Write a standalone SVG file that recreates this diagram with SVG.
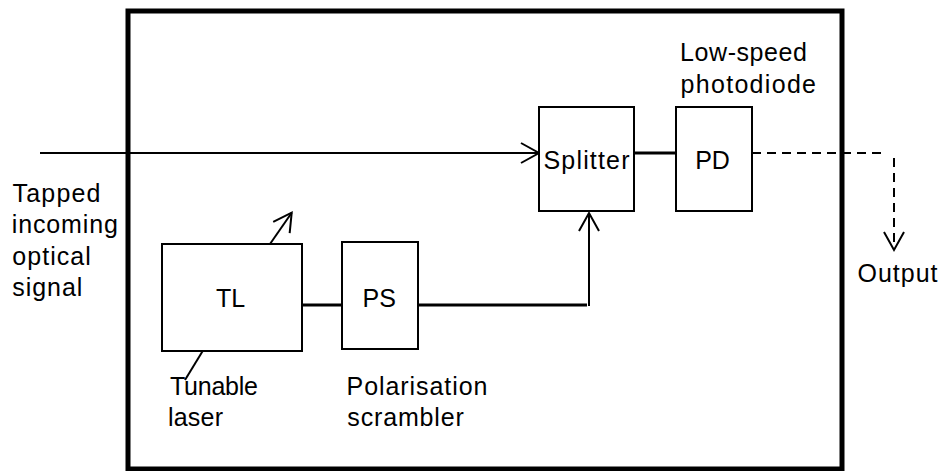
<svg xmlns="http://www.w3.org/2000/svg" width="942" height="471" viewBox="0 0 942 471">
  <style>
    .box { fill: #ffffff; stroke: #000000; stroke-width: 2; }
    .frame { fill: none; stroke: #000000; stroke-width: 5; }
    .thin { fill: none; stroke: #000000; stroke-width: 2; }
    .thick { fill: none; stroke: #000000; stroke-width: 3; }
    .dash { fill: none; stroke: #000000; stroke-width: 2; stroke-dasharray: 9 6; }
    text { font-family: "Liberation Sans", Arial, sans-serif; font-size: 25px; fill: #000000; }
    .mid { text-anchor: middle; }
  </style>
  <defs>
    <marker id="open-arrow" markerUnits="userSpaceOnUse" viewBox="-20 -12 22 24" refX="0" refY="0" markerWidth="22" markerHeight="24" orient="auto" overflow="visible">
      <path d="M -18 -10 L 0 0 L -18 10" fill="none" stroke="#000000" stroke-width="2"/>
    </marker>
  </defs>

  <rect width="942" height="471" fill="#ffffff"/>

  <!-- instrument enclosure -->
  <rect id="enclosure" class="frame" x="128" y="11" width="714" height="458"/>

  <!-- connectors -->
  <g id="connectors">
    <line class="thin" x1="40" y1="153" x2="539" y2="153" marker-end="url(#open-arrow)"/>
    <line class="thick" x1="302" y1="305" x2="342" y2="305"/>
    <line class="thick" x1="418" y1="305" x2="587" y2="305"/>
    <line class="thin" x1="589" y1="306" x2="589" y2="213" marker-end="url(#open-arrow)"/>
    <line class="thick" x1="634" y1="153" x2="676" y2="153"/>
    <line class="dash" x1="752" y1="153" x2="886" y2="153"/>
    <line class="dash" x1="894" y1="158" x2="894" y2="250" marker-end="url(#open-arrow)"/>
    <!-- tuning arrow on the laser -->
    <line class="thin" x1="270" y1="244" x2="291.7" y2="212.7" marker-end="url(#open-arrow)"/>
    <!-- pointer to the laser label -->
    <line class="thin" x1="202.7" y1="351" x2="185" y2="380"/>
  </g>

  <!-- input label -->
  <g id="input-label">
    <text x="12.5" y="202" textLength="88" lengthAdjust="spacing">Tapped</text>
    <text x="11.8" y="233" textLength="106" lengthAdjust="spacing">incoming</text>
    <text x="12.3" y="264.5" textLength="78.5" lengthAdjust="spacing">optical</text>
    <text x="12.3" y="295.5" textLength="70" lengthAdjust="spacing">signal</text>
  </g>

  <g id="node-tl">
    <rect class="box" x="162" y="244" width="140" height="107"/>
    <text class="mid" x="230.7" y="307">TL</text>
    <text x="170" y="395" textLength="88" lengthAdjust="spacing">Tunable</text>
    <text x="168" y="425.5" textLength="55" lengthAdjust="spacing">laser</text>
  </g>

  <g id="node-ps">
    <rect class="box" x="342" y="242" width="76" height="107"/>
    <text class="mid" x="379.2" y="307">PS</text>
    <text x="346.5" y="395" textLength="141" lengthAdjust="spacing">Polarisation</text>
    <text x="347.3" y="425.5" textLength="116.5" lengthAdjust="spacing">scrambler</text>
  </g>

  <g id="node-splitter">
    <rect class="box" x="539" y="107" width="95" height="104"/>
    <text class="mid" x="586.5" y="169" textLength="86" lengthAdjust="spacing">Splitter</text>
  </g>

  <g id="node-pd">
    <rect class="box" x="676" y="107" width="76" height="104"/>
    <text class="mid" x="712.5" y="169">PD</text>
    <text x="680" y="61" textLength="127" lengthAdjust="spacing">Low-speed</text>
    <text x="680.5" y="93" textLength="135.5" lengthAdjust="spacing">photodiode</text>
  </g>

  <g id="output-label">
    <text x="857.5" y="282" textLength="80" lengthAdjust="spacing">Output</text>
  </g>
</svg>
